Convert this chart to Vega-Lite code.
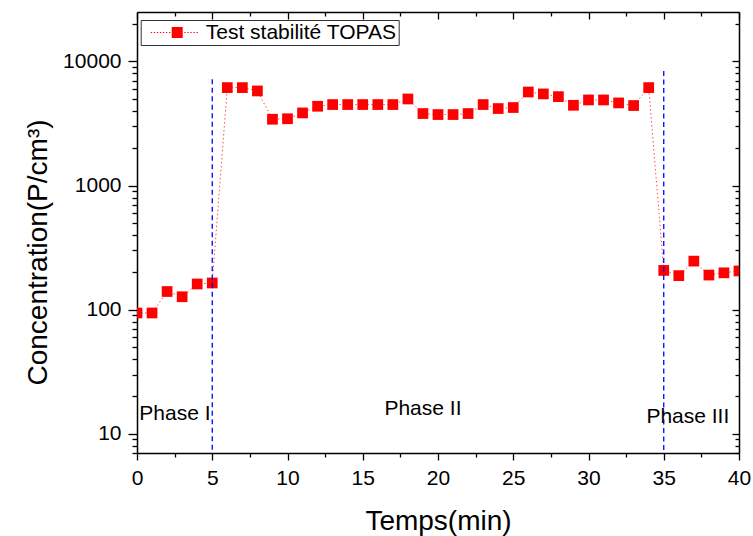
{
  "$schema": "https://vega.github.io/schema/vega-lite/v6.json",
  "width": 602,
  "height": 441,
  "autosize": {"type": "none"},
  "padding": {"left": 137, "top": 12, "right": 14, "bottom": 83},
  "background": "white",
  "config": {
    "view": {"stroke": null},
    "font": "Liberation Sans",
    "axis": {
      "grid": false,
      "domainColor": "black",
      "domainWidth": 1.5,
      "tickColor": "black",
      "tickWidth": 1.3,
      "labelColor": "black",
      "titleColor": "black",
      "labelFont": "Liberation Sans",
      "titleFont": "Liberation Sans",
      "labelFontSize": 21,
      "titleFontSize": 28,
      "titleFontWeight": "normal",
      "labelOverlap": false,
      "labelFlush": false
    }
  },
  "datasets": {
    "pts": [
      {"t": 0, "c": 94}, {"t": 1, "c": 94}, {"t": 2, "c": 140}, {"t": 3, "c": 127}, {"t": 4, "c": 161}, {"t": 5, "c": 164},
      {"t": 6, "c": 6150}, {"t": 7, "c": 6150}, {"t": 8, "c": 5780}, {"t": 9, "c": 3420}, {"t": 10, "c": 3450},
      {"t": 11, "c": 3845}, {"t": 12, "c": 4350}, {"t": 13, "c": 4490}, {"t": 14, "c": 4490}, {"t": 15, "c": 4490},
      {"t": 16, "c": 4490}, {"t": 17, "c": 4490}, {"t": 18, "c": 4980}, {"t": 19, "c": 3800}, {"t": 20, "c": 3730},
      {"t": 21, "c": 3730}, {"t": 22, "c": 3800}, {"t": 23, "c": 4490}, {"t": 24, "c": 4170}, {"t": 25, "c": 4250},
      {"t": 26, "c": 5670}, {"t": 27, "c": 5470}, {"t": 28, "c": 5200}, {"t": 29, "c": 4430}, {"t": 30, "c": 4890},
      {"t": 31, "c": 4890}, {"t": 32, "c": 4630}, {"t": 33, "c": 4410}, {"t": 34, "c": 6150},
      {"t": 35, "c": 207}, {"t": 36, "c": 188}, {"t": 37, "c": 246}, {"t": 38, "c": 190}, {"t": 39, "c": 198}, {"t": 40, "c": 205}
    ],
    "rules": [
      {"t": 5, "top": 7170, "bottom": 7},
      {"t": 35, "top": 8360, "bottom": 7}
    ],
    "labels": [
      {"t": 2.52, "c": 12.8, "label": "Phase I"},
      {"t": 19.0, "c": 14.1, "label": "Phase II"},
      {"t": 36.6, "c": 12.1, "label": "Phase III"}
    ]
  },
  "layer": [
    {
      "data": {"name": "pts"},
      "mark": {"type": "line", "color": "#ff0000", "strokeWidth": 1, "strokeDash": [1.5, 2.5], "opacity": 0.7, "clip": true},
      "encoding": {
        "x": {
          "field": "t", "type": "quantitative",
          "scale": {"domain": [0, 40], "nice": false, "zero": false},
          "axis": {
            "orient": "bottom",
            "values": [0, 2.5, 5, 7.5, 10, 12.5, 15, 17.5, 20, 22.5, 25, 27.5, 30, 32.5, 35, 37.5, 40],
            "labelExpr": "datum.value % 5 === 0 ? datum.label : ''",
            "tickSize": {"condition": {"test": "datum.value % 5 === 0", "value": 7}, "value": 4},
            "labelPadding": 7,
            "title": "Temps(min)",
            "titleX": 301,
            "titleY": 76,
            "titleBaseline": "alphabetic",
            "titleAlign": "center"
          }
        },
        "y": {
          "field": "c", "type": "quantitative",
          "scale": {"type": "log", "domain": [7, 25000], "nice": false},
          "axis": {
            "orient": "left",
            "values": [7, 8, 9, 10, 20, 30, 40, 50, 60, 70, 80, 90, 100, 200, 300, 400, 500, 600, 700, 800, 900, 1000, 2000, 3000, 4000, 5000, 6000, 7000, 8000, 9000, 10000, 20000],
            "format": "d",
            "labelExpr": "indexof([10,100,1000,10000], datum.value) >= 0 ? datum.label : ''",
            "tickSize": {"condition": {"test": "indexof([10,100,1000,10000], datum.value) >= 0", "value": 9}, "value": 5},
            "labelPadding": 7,
            "title": "Concentration(P/cm³)",
            "titleX": -91,
            "titleY": 240,
            "titleBaseline": "alphabetic",
            "titleAlign": "center"
          }
        }
      }
    },
    {
      "data": {"name": "pts"},
      "mark": {"type": "square", "size": 115, "opacity": 1, "clip": true},
      "encoding": {
        "x": {"field": "t", "type": "quantitative", "axis": null},
        "y": {"field": "c", "type": "quantitative", "axis": null},
        "color": {
          "datum": "Test stabilité TOPAS", "type": "nominal",
          "scale": {"range": ["#ff0000"]},
          "legend": {
            "title": null,
            "orient": "none",
            "legendX": 3.7,
            "legendY": 8,
            "symbolType": "M-1,-1H1V1H-1Z M-4.8,-0.11h0.24v0.22h-0.24Z M-4.25,-0.11h0.24v0.22h-0.24Z M-3.7,-0.11h0.24v0.22h-0.24Z M-3.15,-0.11h0.24v0.22h-0.24Z M-2.6,-0.11h0.24v0.22h-0.24Z M-2.05,-0.11h0.24v0.22h-0.24Z M-1.5,-0.11h0.24v0.22h-0.24Z M1.3,-0.11h0.24v0.22h-0.24Z M1.85,-0.11h0.24v0.22h-0.24Z M2.4,-0.11h0.24v0.22h-0.24Z M2.95,-0.11h0.24v0.22h-0.24Z M3.5,-0.11h0.24v0.22h-0.24Z",
            "symbolSize": 121,
            "symbolStrokeWidth": 0,
            "symbolFillColor": "#ff0000",
            "symbolOffset": 24,
            "labelOffset": 18,
            "labelFontSize": 21,
            "labelFont": "Liberation Sans",
            "labelColor": "black",
            "labelLimit": 0,
            "padding": 2,
            "strokeColor": "#333333",
            "fillColor": "white"
          }
        }
      }
    },
    {
      "data": {"name": "rules"},
      "mark": {"type": "rule", "color": "#0000ff", "strokeDash": [5, 3.5], "strokeWidth": 1.3},
      "encoding": {
        "x": {
          "field": "t", "type": "quantitative",
          "axis": {
            "orient": "top",
            "values": [0, 2.5, 5, 7.5, 10, 12.5, 15, 17.5, 20, 22.5, 25, 27.5, 30, 32.5, 35, 37.5, 40],
            "labels": false,
            "title": null,
            "tickSize": {"condition": {"test": "datum.value % 5 === 0", "value": -7}, "value": -4}
          }
        },
        "y": {
          "field": "top", "type": "quantitative",
          "axis": {
            "orient": "right",
            "values": [7, 8, 9, 10, 20, 30, 40, 50, 60, 70, 80, 90, 100, 200, 300, 400, 500, 600, 700, 800, 900, 1000, 2000, 3000, 4000, 5000, 6000, 7000, 8000, 9000, 10000, 20000],
            "labels": false,
            "title": null,
            "tickSize": {"condition": {"test": "indexof([10,100,1000,10000], datum.value) >= 0", "value": -7}, "value": -4}
          }
        },
        "y2": {"field": "bottom"}
      }
    },
    {
      "data": {"name": "labels"},
      "mark": {"type": "text", "fontSize": 21, "font": "Liberation Sans", "color": "black", "baseline": "alphabetic", "align": "center"},
      "encoding": {
        "x": {"field": "t", "type": "quantitative", "axis": null},
        "y": {"field": "c", "type": "quantitative", "axis": null},
        "text": {"field": "label"}
      }
    }
  ],
  "resolve": {"axis": {"x": "independent", "y": "independent"}}
}
